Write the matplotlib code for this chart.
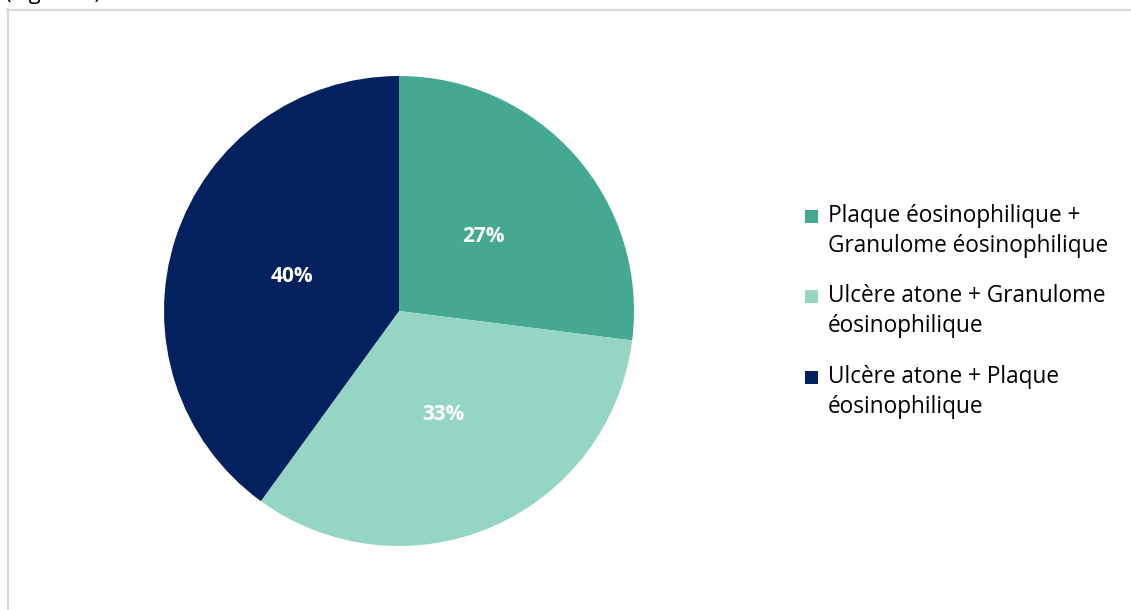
import matplotlib.pyplot as plt
import matplotlib.patches as patches
from matplotlib.lines import Line2D

labels = ["Plaque éosinophilique +\nGranulome éosinophilique",
          "Ulcère atone + Granulome\néosinophilique",
          "Ulcère atone + Plaque\néosinophilique"]
values = [27, 33, 40]
colors = ["#45A890", "#94D5C4", "#03205F"]

W, H = 1131, 610
fig = plt.figure(figsize=(W / 100, H / 100), dpi=100)
fig.patch.set_facecolor("white")

# chart frame (light grey border, cut on the right and bottom)
fig.add_artist(Line2D([7.5 / W, 7.5 / W], [0, 1 - 9 / H], color="#D9D9D9", lw=1.5))
fig.add_artist(Line2D([7 / W, 1], [1 - 9.5 / H, 1 - 9.5 / H], color="#D9D9D9", lw=1.5))

# caption above the frame, only its descenders fall inside the canvas
fig.text(5 / W, 1 + 1 / H, "(Figure 5)", fontsize=16, family="Open Sans",
         color="black", va="baseline", ha="left")

ax = fig.add_axes([164 / W, 1 - 546 / H, 470 / W, 470 / H])
wedges, texts, autotexts = ax.pie(
    values, colors=colors, startangle=90, counterclock=False,
    autopct=lambda p: f"{p:.0f}%", pctdistance=0.48,
    wedgeprops=dict(linewidth=0),
    textprops=dict(color="white", fontsize=15, fontweight="bold", family="Open Sans"))
ax.set_xlim(-1, 1)
ax.set_ylim(-1, 1)
ax.axis("off")

# legend drawn by hand: square marker + two-line label
leg_top = [231, 311, 392]
for lab, col, y in zip(labels, colors, leg_top):
    fig.add_artist(patches.Rectangle((805 / W, 1 - (y - 8) / H), 13 / W, 13 / H,
                                     transform=fig.transFigure, facecolor=col,
                                     edgecolor="none"))
    fig.text(828 / W, 1 - y / H, lab, fontsize=16.3, family="Open Sans",
             color="black", va="center", ha="left", linespacing=1.38)

fig.savefig("out.png", dpi=100)
